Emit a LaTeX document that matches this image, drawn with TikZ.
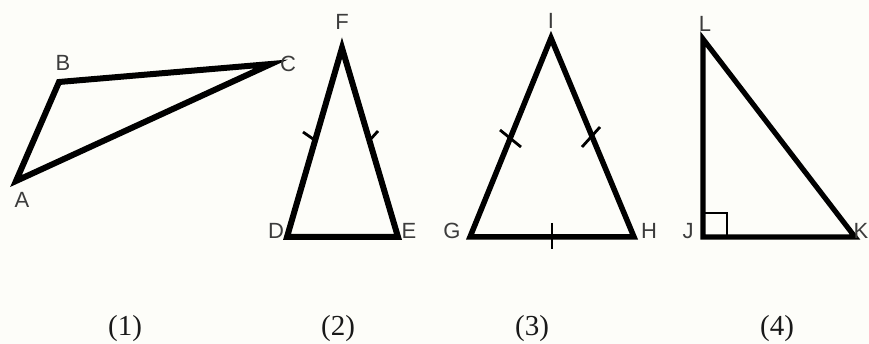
\documentclass[tikz,border=0pt]{standalone}
\usepackage{fontspec}
\setmainfont{Liberation Serif}
\newfontfamily\lblfont{Liberation Sans}
\usetikzlibrary{calc}
\definecolor{bgc}{HTML}{FDFDF9}
\definecolor{lblc}{HTML}{3C3C3C}
\begin{document}
\begin{tikzpicture}[x=1pt,y=-1pt,
  tri/.style={line width=6pt,line join=miter,miter limit=12,black},
  tick/.style={line width=2.8pt,black},
  vlabel/.style={inner sep=0pt,text=lblc,font=\lblfont\fontsize{22}{22}\selectfont},
  numlabel/.style={inner sep=0pt,text=black!90,font=\fontsize{29}{29}\selectfont}]
\fill[bgc] (0,0) rectangle (869,344);
\useasboundingbox (0,0) rectangle (869,344);
% triangle 1
\coordinate (A) at (16,181);
\coordinate (B) at (59,82);
\coordinate (C) at (271,64);
\draw[tri] (A) -- (B) -- (C) -- cycle;
\node[vlabel] (lA) at (22,200) {A};
\node[vlabel] (lB) at (63,63) {B};
\node[vlabel] (lC) at (288,64) {C};
% triangle 2
\coordinate (D) at (287,237);
\coordinate (E) at (398,237);
\coordinate (F) at (342,48);
\draw[tri] (D) -- (E) -- (F) -- cycle;
\draw[tick] (303,132) -- (316,141);
\draw[tick] (378,131) -- (369,141);
\node[vlabel] (lD) at (276,231) {D};
\node[vlabel] (lE) at (409,231) {E};
\node[vlabel] (lF) at (342,22) {F};
% triangle 3
\coordinate (G) at (470,237);
\coordinate (H) at (634,237);
\coordinate (I) at (551,38);
\draw[tri,line width=5.5pt] (G) -- (H) -- (I) -- cycle;
\draw[tick] (500,130) -- (521,147);
\draw[tick] (582,147) -- (600,127);
\draw[tick] (552,223) -- (552,249);
\node[vlabel] (lG) at (452,231) {G};
\node[vlabel] (lH) at (649,231) {H};
\node[vlabel] (lI) at (551,21) {I};
% triangle 4
\coordinate (J) at (703,237);
\coordinate (K) at (855,237);
\coordinate (L) at (703,39);
\draw[tri,line width=5.2pt] (J) -- (K) -- (L) -- cycle;
\draw[tick] ($(J)+(0,-24)$) -- ($(J)+(24,-24)$) -- ($(J)+(24,0)$);
\node[vlabel] (lJ) at (688,231) {J};
\node[vlabel] (lK) at (861,231) {K};
\node[vlabel] (lL) at (705,24) {L};
% captions
\node[numlabel] (n1) at (125,329) {(1)};
\node[numlabel] (n2) at (338,329) {(2)};
\node[numlabel] (n3) at (532,329) {(3)};
\node[numlabel] (n4) at (777,329) {(4)};
\end{tikzpicture}
\end{document}
